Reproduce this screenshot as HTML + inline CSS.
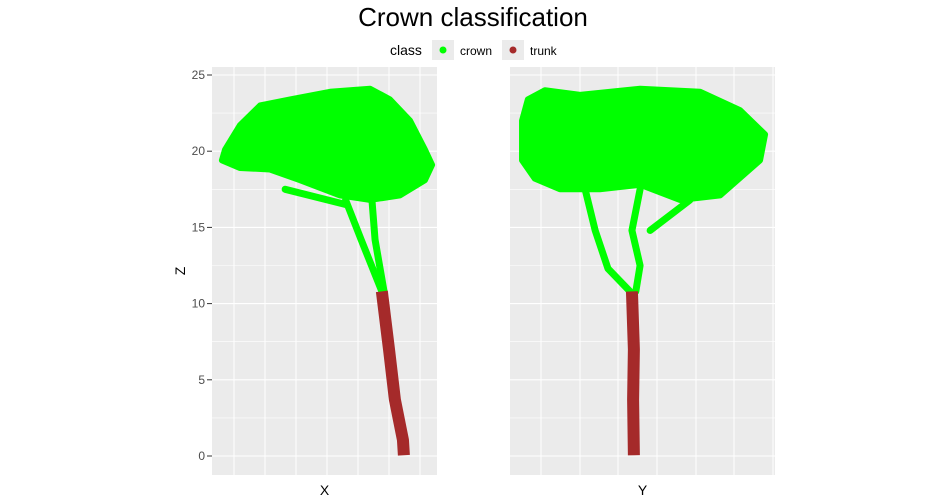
<!DOCTYPE html>
<html><head><meta charset="utf-8"><style>
body{margin:0;background:#fff;}
svg{display:block;font-family:"Liberation Sans",sans-serif;}
</style></head><body>
<svg id="c" width="947" height="498"></svg>
<script>
const zTicks=[0,5,10,15,20,25];
const crownX=[[-0.39,19.4],[-0.29,20.1],[0.19,21.7],[0.84,23.0],[1.81,23.4],[3.10,23.9],[4.39,24.1],[5.03,23.4],[5.68,22.0],[6.16,20.1],[6.39,19.1],[6.16,18.1],[5.35,17.1],[4.39,16.8],[3.42,17.1],[2.13,18.1],[1.16,18.8],[0.19,18.9]];
const branchesX=[[[4.77,10.8],[4.1,14.2],[3.6,16.8]],[[4.84,10.8],[4.55,14.2],[4.45,16.8]],[[1.65,17.5],[3.6,16.5]]];
const trunkX=[[4.77,10.8],[5.0,7.0],[5.19,3.7],[5.45,1.05],[5.48,0.05]];
const crownY=[[-0.49,22.0],[-0.34,23.4],[0.10,24.0],[1.01,23.7],[2.56,24.1],[4.11,23.9],[5.14,22.7],[5.79,21.1],[5.66,19.4],[4.63,17.1],[3.59,16.8],[2.56,17.8],[1.52,17.5],[0.49,17.5],[-0.16,18.2],[-0.49,19.4]];
const branchesY=[[[2.30,10.8],[1.73,12.3],[1.40,14.8],[1.14,17.5]],[[2.45,10.8],[2.56,12.5],[2.35,14.8],[2.56,17.5]],[[2.82,14.8],[3.85,16.8]]];
const trunkY=[[2.35,10.8],[2.40,7.0],[2.38,3.7],[2.40,0.05]];

const NS='http://www.w3.org/2000/svg';
const svg=document.getElementById('c');
function el(t,a,p){const e=document.createElementNS(NS,t);for(const k in a)e.setAttribute(k,a[k]);(p||svg).appendChild(e);return e;}
const zs=v=>456-15.24*v;
const xsL=v=>234+31*v;
const xsR=v=>541+38.7*v;
const panels=[{x0:212,x1:437,sx:xsL,crown:crownX,br:branchesX,tr:trunkX,grid:[234,265,296,327,358,389,420],lab:'X',name:'x'},
{x0:510,x1:775,sx:xsR,crown:crownY,br:branchesY,tr:trunkY,grid:[541,580,618,657,696,734,773],lab:'Y',name:'y'}];
let t=el('text',{x:473,y:26,'text-anchor':'middle','font-size':26,fill:'#000'});t.textContent='Crown classification';


const lg=el('g',{});


t=el('text',{x:390,y:55,'font-size':14,fill:'#000'},lg);t.textContent='class';
el('rect',{x:432,y:40,width:22,height:20,fill:'#ebebeb'},lg);
el('circle',{cx:443,cy:50,r:3.5,fill:'#00ff00'},lg);
t=el('text',{x:460,y:55,'font-size':12,fill:'#000'},lg);t.textContent='crown';
el('rect',{x:502,y:40,width:22,height:20,fill:'#ebebeb'},lg);
el('circle',{cx:513,cy:50,r:3.5,fill:'#a52a2a'},lg);
t=el('text',{x:530,y:55,'font-size':12,fill:'#000'},lg);t.textContent='trunk';
const pts=(a,sx)=>a.map(p=>sx(p[0])+','+zs(p[1])).join(' ');
panels.forEach(P=>{
  const g=el('g',{});
  
  
  el('rect',{x:P.x0,y:67,width:P.x1-P.x0,height:408,fill:'#ebebeb'},g);
  for(let v=0;v<=25;v+=2.5){el('line',{x1:P.x0,x2:P.x1,y1:zs(v),y2:zs(v),stroke:'#fff','stroke-width':v%5===0?1.1:0.6},g);}
  P.grid.forEach(x=>el('line',{x1:x,x2:x,y1:67,y2:475,stroke:'#fff','stroke-width':1},g));
  const cr=el('polygon',{points:pts(P.crown,P.sx),fill:'#00ff00',stroke:'#00ff00','stroke-width':6,'stroke-linejoin':'round'},g);
  
  
  P.br.forEach(b=>{const l=el('polyline',{points:pts(b,P.sx),fill:'none',stroke:'#00ff00','stroke-width':7,'stroke-linecap':'round','stroke-linejoin':'round'},g);
    
    });
  const tr=el('polyline',{points:pts(P.tr,P.sx),fill:'none',stroke:'#a52a2a','stroke-width':12,'stroke-linejoin':'round'},g);
  
  
  const ax=el('text',{x:(P.x0+P.x1)/2,y:495,'text-anchor':'middle','font-size':14,fill:'#000'});
  ax.textContent=P.lab;
  
  
});
zTicks.forEach(v=>{
  el('line',{x1:207,x2:212,y1:zs(v),y2:zs(v),stroke:'#333','stroke-width':1});
  const tl=el('text',{x:205,y:zs(v)+4,'text-anchor':'end','font-size':12,fill:'#4d4d4d'});
  tl.textContent=v;
  
  
});
const zt=el('text',{x:185,y:271,'text-anchor':'middle','font-size':14,fill:'#000',transform:'rotate(-90 185 271)'});
zt.textContent='Z';


</script>
</body></html>
